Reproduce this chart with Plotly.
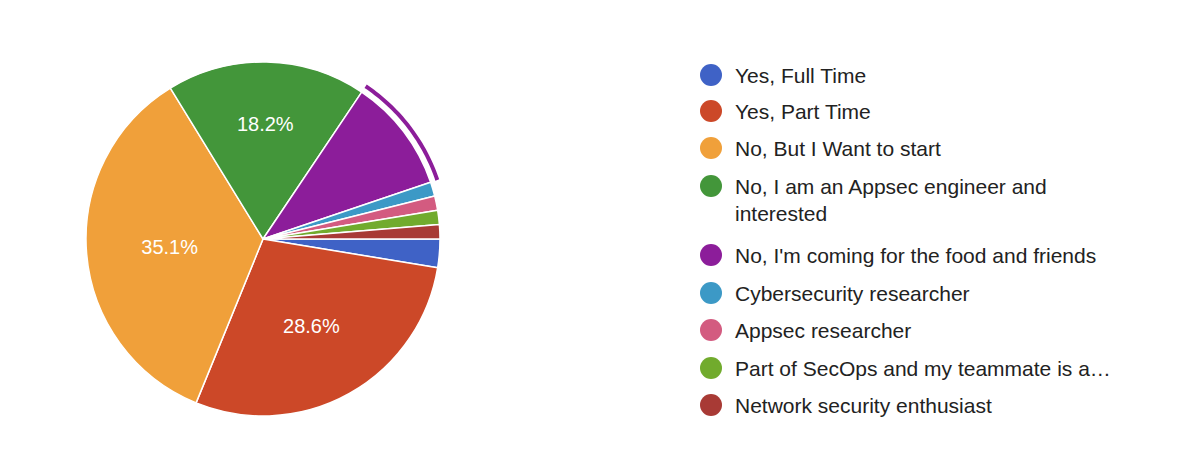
import math
import plotly.graph_objects as go

labels = ["Yes, Full Time", "Yes, Part Time", "No, But I Want to start",
          "No, I am an Appsec engineer and<br>interested",
          "No, I'm coming for the food and friends",
          "Cybersecurity researcher", "Appsec researcher",
          "Part of SecOps and my teammate is a…", "Network security enthusiast"]
counts = [2, 22, 27, 14, 8, 1, 1, 1, 1]
shown = ["", "28.6%", "35.1%", "18.2%", "", "", "", "", ""]
colors = ["#3f62c6", "#cc4828", "#f0a03a", "#43963a", "#8c1d9a",
          "#3c99c6", "#d35b80", "#71ab2d", "#a83a35"]

W, H = 1200, 474
cx, cy, R = 255, 231, 177
fig = go.Figure(go.Pie(
    labels=labels, values=counts, text=shown, texttemplate="%{text}",
    textposition="inside", insidetextorientation="horizontal",
    textfont=dict(color="white", size=20, family="Arial"),
    marker=dict(colors=colors, line=dict(color="white", width=1.5)),
    sort=False, direction="clockwise", rotation=90, showlegend=False,
    domain=dict(x=[(cx - R) / W, (cx + R) / W], y=[1 - (cy + R) / H, 1 - (cy - R) / H]),
    hoverinfo="label+percent"))

# highlight arc around the hovered (purple) slice
tot = sum(counts)
a0 = sum(counts[:4]) / tot * 360
a1 = sum(counts[:5]) / tot * 360
rr = R + 7
pts = []
for i in range(41):
    a = math.radians(a0 + (a1 - a0) * i / 40)  # clockwise from 3 o'clock (screen y down)
    x = (cx + rr * math.cos(a)) / W
    y = 1 - (cy + rr * math.sin(a)) / H
    pts.append(f"{x:.5f},{y:.5f}")
fig.add_shape(type="path", xref="paper", yref="paper",
              path="M " + " L ".join(pts), line=dict(color="#8c1d9a", width=4))

ys = [67, 103, 140, 178, 247, 285, 322, 360, 397]
for lab, col, y in zip(labels, colors, ys):
    fig.add_shape(type="circle", xref="paper", yref="paper",
                  x0=692 / W, x1=714 / W, y0=1 - (y + 11) / H, y1=1 - (y - 11) / H,
                  fillcolor=col, line=dict(width=0))
    fig.add_annotation(xref="paper", yref="paper", x=725 / W, y=1 - (y - 13) / H,
                       text=lab, showarrow=False, xanchor="left", yanchor="top",
                       align="left", font=dict(size=21, color="#222", family="Arial"))

fig.update_layout(width=W, height=H, margin=dict(l=0, r=0, t=0, b=0),
                  paper_bgcolor="white", font=dict(family="Arial", color="#222"))
fig.write_html("out.html")
